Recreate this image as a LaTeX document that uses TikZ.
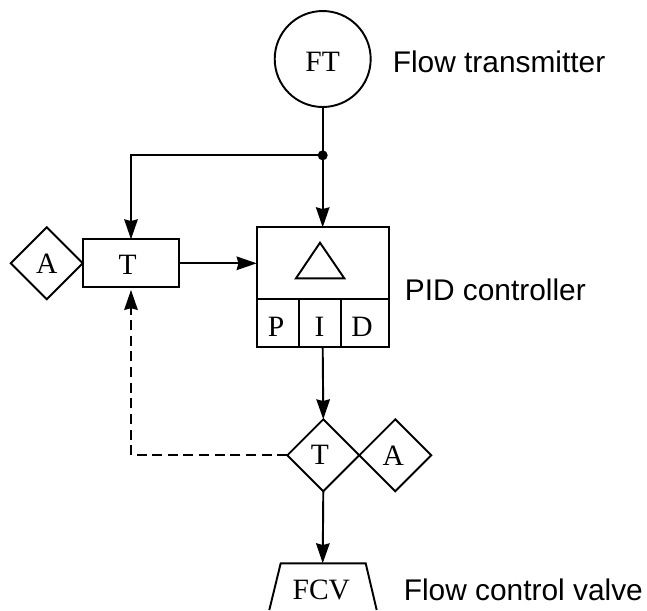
\documentclass[tikz,border=0pt]{standalone}
\usepackage{fontspec}
\setmainfont{Liberation Serif}
\newfontfamily\labelfont{Liberation Sans}
\usepackage{tikz}
\usetikzlibrary{arrows.meta,shapes.geometric,calc}
\tikzset{
  instr/.style={draw,line width=1.1pt,inner sep=0pt,outer sep=0pt,font=\fontsize{16.8}{20}\selectfont},
  dia/.style={instr,diamond,minimum width=1.44cm,minimum height=1.44cm},
  cell/.style={instr,rectangle,minimum height=0.96cm,text height=15.3pt,text depth=0pt},
  caption/.style={anchor=west,inner sep=0pt,font=\labelfont\fontsize{17}{20}\selectfont},
  sig/.style={line width=1.1pt,-{Stealth[length=0.4cm,width=0.27cm,inset=0.035cm]}}
}

\begin{document}
\begin{tikzpicture}[x=0.02cm,y=-0.02cm]
        \useasboundingbox (0,0) rectangle (647,610);
        \node[instr,circle,minimum size=1.92cm,text height=14.5pt,text depth=0pt] (ft) at (322.7,59){FT};
        \node[caption] (ftlabel) at (392.5,62){Flow transmitter};
        % controller block
        \node[instr,rectangle,minimum width=2.65cm,minimum height=1.44cm] (pid) at (322.9,263.3){};
        \draw[line width=1.1pt] (296,278.3) -- (320,242.7) -- (344.3,278.3) -- cycle;
        \node[cell,minimum width=0.85cm] (pterm) at (277.8,323.3){\kern-2pt P};
        \node[cell,minimum width=0.84cm] (iterm) at (320,323.3){\kern-.5pt I};
        \node[cell,minimum width=0.96cm] (dterm) at (365,323.3){\kern-3.5pt D};
        \node[caption] (pidlabel) at (404.5,290){PID controller};
        % auto/manual on the left
        \node[dia] (aleft) at (46.7,263.3){A};
        \node[instr,rectangle,minimum width=1.93cm,minimum height=0.96cm,text height=12.5pt,text depth=0pt] (tleft) at (131,263.3){\kern-3.8pt T};
        % auto/manual below
        \node[dia] (tlow) at (323.3,455.3){\kern-3.8pt T};
        \node[dia] (alow) at (395.3,455.3){\kern-2.3pt A};
        % valve
        \coordinate (vl) at (269.3,610);
        \coordinate (vtl) at (280.7,563.3);
        \coordinate (vtop) at (322.7,563.3);
        \coordinate (vtr) at (365.7,563.3);
        \coordinate (vr) at (376.7,610);
        \draw[line width=1.1pt] (vl) -- (vtl) -- (vtr) -- (vr);
        \node[font=\fontsize{16.8}{20}\selectfont,inner sep=0pt] (fcv) at (321.3,590){FCV};
        \node[caption] (fcvlabel) at (403.5,590){Flow control valve};
        % signals
        \coordinate (tee) at (322.7,155.3);
        \fill (tee) circle (5);
        \draw[line width=1.1pt] (ft.south) -- (tee);
        \draw[sig] (tee) -- (pid.north -| tee);
        \draw[sig] (tee) -| (tleft.north);
        \draw[sig] (tleft.east) -- (pid.west);
        \draw[sig] (iterm.south -| tee) -- (tlow.north);
        \draw[sig] (tlow.south) -- (vtop);
        \draw[sig,dash pattern=on 5.7pt off 3.2pt,shorten >=1.5pt] (tlow.west) -| (tleft.south);
      \end{tikzpicture}
\end{document}
